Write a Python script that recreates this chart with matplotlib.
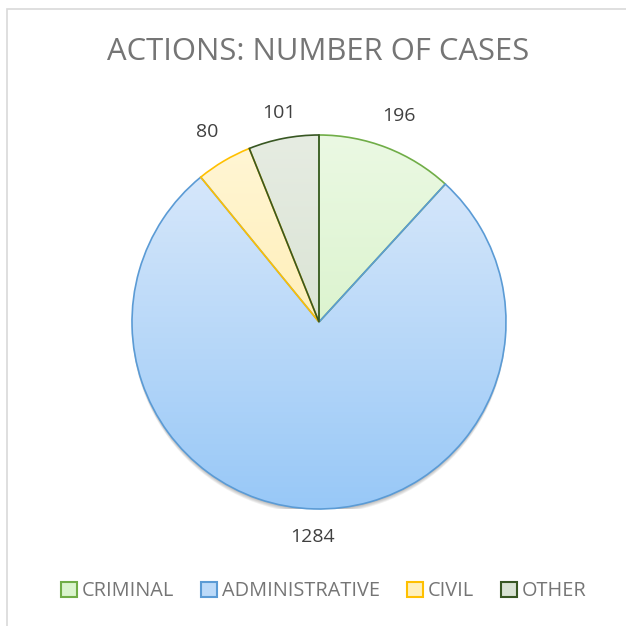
import numpy as np
import matplotlib
matplotlib.use("Agg")
import matplotlib.pyplot as plt
from matplotlib.patches import Patch, Circle, Rectangle
from matplotlib.colors import LinearSegmentedColormap

categories = ["CRIMINAL", "ADMINISTRATIVE", "CIVIL", "OTHER"]
values = [196, 1284, 80, 101]
title = "ACTIONS: NUMBER OF CASES"

edge_colors = ["#70ad47", "#5b9bd5", "#ffc000", "#385723"]
top_colors = ["#ebf9e3", "#deebfb", "#fff6d6", "#e6ece2"]
bot_colors = ["#cdeebb", "#98c8f7", "#ffe99c", "#cfdcc8"]
mid_colors = ["#daf4cd", "#bcdaf9", "#fff0bb", "#d9e3d3"]

plt.rcParams['font.family'] = ['Open Sans', 'DejaVu Sans']

W = H = 626
fig = plt.figure(figsize=(6.26, 6.26), dpi=100)
fig.patch.set_facecolor("white")

# chart border
border = Rectangle((6.5 / W, -0.01), 1.1, 1 - 8.5 / H + 0.01, transform=fig.transFigure,
                   fill=False, edgecolor="#d9d9d9", linewidth=1.2)
fig.add_artist(border)

cx, cy, R = 319, H - 322, 187
ax = fig.add_axes([(cx - R) / W, (cy - R) / H, 2 * R / W, 2 * R / H])
ax.set_xlim(-1, 1)
ax.set_ylim(-1, 1)
ax.set_aspect("equal")
ax.axis("off")

# soft shadow (bottom only)
for i in range(5):
    ax.add_patch(Circle((0, -0.006 - i * 0.005), 1.0, facecolor="#000000",
                        alpha=0.06, edgecolor="none", zorder=0))
ax.add_patch(Circle((0, 0), 1.0, facecolor="white", edgecolor="none", zorder=0.5))

wedges, _ = ax.pie(values, startangle=90, counterclock=False, radius=1.0,
                   wedgeprops=dict(linewidth=1.2, antialiased=True))
ax.set_xlim(-1, 1)
ax.set_ylim(-1, 1)

grad = np.linspace(0, 1, 256).reshape(-1, 1)
for w, ec, tc, bc in zip(wedges, edge_colors, top_colors, bot_colors):
    w.set_facecolor("none")
    w.set_edgecolor(ec)
    w.set_zorder(3)
    cmap = LinearSegmentedColormap.from_list("g", [tc, bc])
    im = ax.imshow(grad, cmap=cmap, extent=[-1, 1, -1, 1], origin="upper", aspect="auto",
                   zorder=2, interpolation="bilinear")
    im.set_clip_path(w)
    ax.set_xlim(-1, 1)
    ax.set_ylim(-1, 1)

# data labels
label_r = [1.18, 1.15, 1.18, 1.14]
for w, v, r in zip(wedges, values, label_r):
    ang = np.deg2rad((w.theta1 + w.theta2) / 2)
    ax.text(r * np.cos(ang), r * np.sin(ang), str(v), ha="center", va="center",
            fontsize=14, color="#404040", clip_on=False)

fig.text(318 / W, 1 - 52 / H, title, ha="center", va="center", fontsize=22.3,
         color="#757575")

handles = [Patch(facecolor=m, edgecolor=e, linewidth=1.5) for m, e in zip(mid_colors, edge_colors)]
fig.legend(handles, categories, loc="center", bbox_to_anchor=(324 / W, 1 - 591 / H),
           ncol=4, frameon=False, fontsize=14.3, labelcolor="#757575",
           handlelength=0.8, handleheight=0.8, handletextpad=0.25, columnspacing=1.35)

fig.savefig("out.png", dpi=100, facecolor="white")
